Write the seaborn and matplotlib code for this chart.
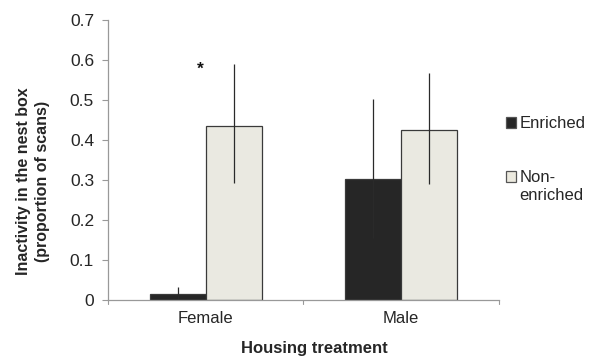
import matplotlib
matplotlib.use("Agg")
import matplotlib.pyplot as plt
from matplotlib.patches import Patch
import seaborn as sns
import pandas as pd
import numpy as np

# Mean proportion of scans inactive in the nest box, with error ranges
sexes = ["Female", "Male"]
treatments = ["Enriched", "Non-enriched"]
enriched_mean = [0.015, 0.302]
enriched_low = [0.0, 0.154]
enriched_high = [0.032, 0.503]
nonenriched_mean = [0.435, 0.424]
nonenriched_low = [0.293, 0.291]
nonenriched_high = [0.589, 0.568]
significance_marks = ["*", ""]
yticks = [0, 0.1, 0.2, 0.3, 0.4, 0.5, 0.6, 0.7]
ytick_labels = ["0", "0.1", "0.2", "0.3", "0.4", "0.5", "0.6", "0.7"]

colors = {"Enriched": "#262626", "Non-enriched": "#ECEADF"}

df = pd.DataFrame({
    "sex": sexes * 2,
    "treatment": [treatments[0]] * 2 + [treatments[1]] * 2,
    "mean": enriched_mean + nonenriched_mean,
    "low": enriched_low + nonenriched_low,
    "high": enriched_high + nonenriched_high,
})

sns.set_theme(style="white")
plt.rcParams["font.family"] = ["Liberation Sans", "DejaVu Sans"]

fig = plt.figure(figsize=(5.91, 3.58), dpi=100)
ax = fig.add_axes([0.1827, 0.162, 0.6616, 0.782])

sns.barplot(data=df, x="sex", y="mean", hue="treatment", order=sexes,
            hue_order=treatments, palette=colors, errorbar=None,
            width=0.572, edgecolor="#3a3a3a", linewidth=0.9, ax=ax,
            legend=False)

# Asymmetric error bars centred on each drawn bar
for container, t in zip(ax.containers, treatments):
    sub = df[df["treatment"] == t].set_index("sex").loc[sexes]
    xs = [p.get_x() + p.get_width() / 2 for p in container.patches]
    means = sub["mean"].to_numpy()
    yerr = np.vstack([means - sub["low"].to_numpy(),
                      sub["high"].to_numpy() - means])
    ax.errorbar(xs, means, yerr=yerr, fmt="none", ecolor="#2a2a2a",
                elinewidth=0.9, capsize=0)

# Significance marker above the female group
for i, mark in enumerate(significance_marks):
    if mark:
        top = max(enriched_high[i], nonenriched_high[i])
        ax.text(i - 0.03, top - 0.012, mark, ha="center", va="center",
                fontsize=12.5, fontweight="bold", color="#111111")

ax.set_ylim(0, 0.7)
ax.set_xlim(-0.5, 1.5)
ax.set_yticks(yticks)
ax.set_yticklabels(ytick_labels, fontsize=12.5)
ax.set_xticks([0, 1])
ax.set_xticklabels(sexes, fontsize=12)
ax.tick_params(axis="x", length=0, pad=8)
ax.tick_params(axis="y", length=4, width=0.8, color="#999999", pad=6,
               left=True, direction="out")

# Category boundary ticks along the x axis
for xb in [-0.5, 0.5, 1.5]:
    ax.plot([xb, xb], [0, -0.01], color="#999999", lw=0.8, clip_on=False)

for side in ["top", "right"]:
    ax.spines[side].set_visible(False)
for side in ["left", "bottom"]:
    ax.spines[side].set_color("#999999")
    ax.spines[side].set_linewidth(0.9)

ax.set_ylabel("Inactivity in the nest box\n(proportion of scans)",
              fontsize=11.5, fontweight="bold", linespacing=1.35)
ax.yaxis.set_label_coords(-0.148, 0.425)
ax.set_xlabel("Housing treatment", fontsize=12, fontweight="bold")
ax.xaxis.set_label_coords(0.527, -0.146)

handles = [Patch(facecolor=colors[t], edgecolor="#555555", linewidth=0.9)
           for t in treatments]
leg = ax.legend(handles, ["Enriched", "Non-"], loc="upper left",
                bbox_to_anchor=(1.018, 0.657), frameon=False, fontsize=12,
                handlelength=0.62, handleheight=0.62, handletextpad=0.2,
                labelspacing=2.36, borderaxespad=0.0, borderpad=0.0)

# Second line of the two-line legend entry, set under "Non-"
fig.canvas.draw()
non_text = leg.get_texts()[1]
bb = non_text.get_window_extent()
cx, cy = bb.x0, (bb.y0 + bb.y1) / 2 - 18
fx, fy = fig.transFigure.inverted().transform((cx, cy))
fig.text(fx, fy, "enriched", ha="left", va="center", fontsize=12,
         color=non_text.get_color())

fig.savefig("out.png", dpi=100, facecolor="white")
